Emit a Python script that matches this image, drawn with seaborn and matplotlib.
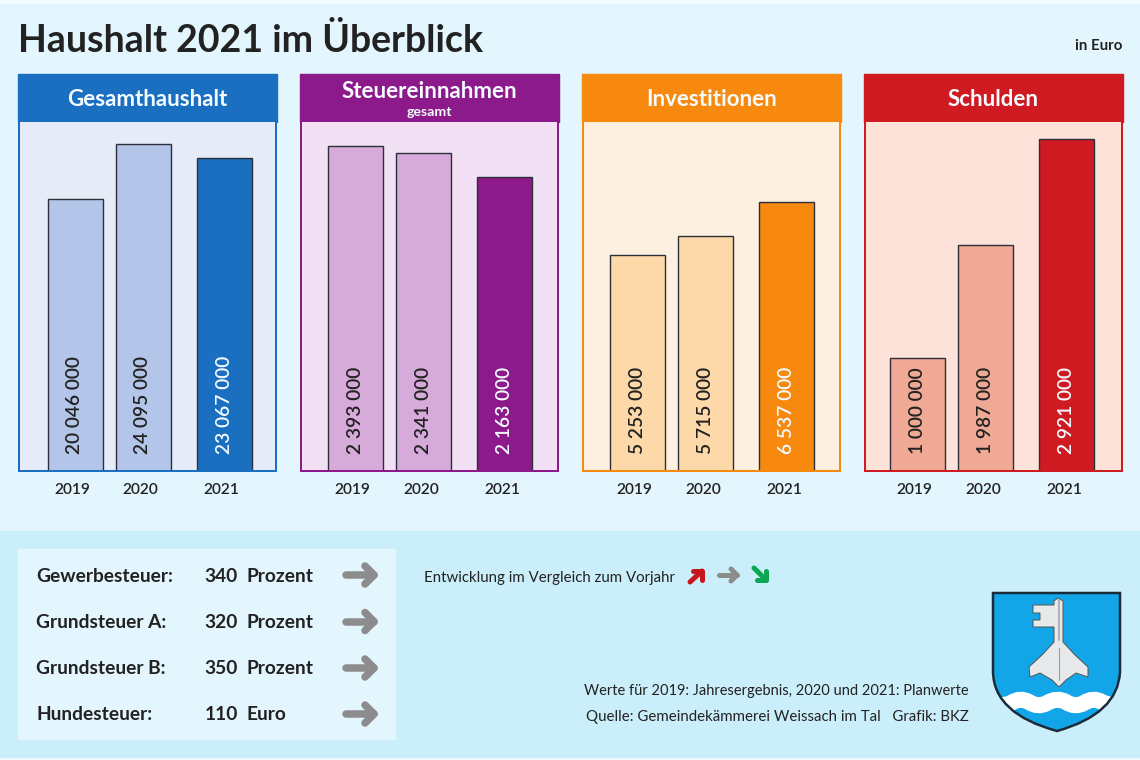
import numpy as np
import pandas as pd
import matplotlib
matplotlib.use("Agg")
import matplotlib.pyplot as plt
from matplotlib.patches import Rectangle, PathPatch
from matplotlib.path import Path
import seaborn as sns

# Werte
jahre = ["2019", "2020", "2021"]
titel = ["Gesamthaushalt", "Steuereinnahmen", "Investitionen", "Schulden"]
gesamthaushalt = [20046000, 24095000, 23067000]
steuereinnahmen = [2393000, 2341000, 2163000]
investitionen = [5253000, 5715000, 6537000]
schulden = [1000000, 1987000, 2921000]
steuer_namen = ["Gewerbesteuer:", "Grundsteuer A:", "Grundsteuer B:", "Hundesteuer:"]
steuer_werte = [340, 320, 350, 110]
steuer_einheit = ["Prozent", "Prozent", "Prozent", "Euro"]

# Layout und Farben (Pixel)
W, H = 1140, 760
panel_links = [18, 300, 582, 864]
bar_links = [48, 328.5, 610.5, 890.5]
y_max = [25720000, 2570000, 8470000, 3075000]
dunkel = ["#1a6fc0", "#8c1a8a", "#f7890f", "#d01a22"]
mittel = ["#b3c6e9", "#d6aad9", "#fdd8a8", "#efa994"]
hell = ["#e6ebf8", "#f2e1f4", "#fef0e0", "#fde2da"]
TEXT = "#222222"
GRAU = "#8c8c8c"


def px(n):
    # Pixel nach Punkt
    return n * 0.72


def pfeil(ax, x0, y0, x1, y1, kopf, breite, farbe=GRAU):
    # Schaft plus Kopf, kopf = zwei Endpunkte der Spitze
    ax.plot([x0, x1], [y0, y1], color=farbe, lw=px(breite), solid_capstyle="round", zorder=3)
    ax.plot([kopf[0][0], x1, kopf[1][0]], [kopf[0][1], y1, kopf[1][1]], color=farbe,
            lw=px(breite), solid_capstyle="round", solid_joinstyle="round", zorder=3)


def plot_panel(fig, i, werte):
    links = panel_links[i]
    ax = fig.add_axes([(links + 1) / W, 1 - 471 / H, 257 / W, 349 / H], zorder=2)
    df = pd.DataFrame({"Jahr": jahre, "Wert": werte})
    sns.barplot(data=df, x="Jahr", y="Wert", hue="Jahr", ax=ax, width=55 / 68,
                palette=[mittel[i], mittel[i], dunkel[i]], legend=False,
                edgecolor="#2b2f3a", linewidth=1, saturation=1)
    # 2021 steht etwas abgesetzt
    versatz = 13 / 68
    ax.patches[2].set_x(ax.patches[2].get_x() + versatz)
    mitte0 = bar_links[i] + 27 - (links + 1)
    ax.set_xlim(-mitte0 / 68, (257 - mitte0) / 68)
    ax.set_ylim(0, y_max[i])
    ax.set_facecolor(hell[i])
    ax.set_yticks([])
    ax.set_xlabel("")
    ax.set_ylabel("")
    ax.set_xticks([-3 / 68, 1 - 2.5 / 68, 2 + versatz - 2.5 / 68])
    ax.set_xticklabels(jahre, fontsize=11.2, color=TEXT, fontweight="semibold")
    ax.tick_params(axis="x", length=0, pad=9)
    ax.grid(False)
    for s in ["left", "right", "bottom"]:
        ax.spines[s].set_color(dunkel[i])
        ax.spines[s].set_linewidth(px(2))
    ax.spines["top"].set_visible(False)
    for j, p in enumerate(ax.patches):
        text = f"{werte[j]:,}".replace(",", " ")
        ax.annotate(text, (p.get_x() + p.get_width() / 2, 0), xytext=(0, px(17)),
                    textcoords="offset points", rotation=90, ha="center", va="bottom",
                    fontsize=13.8, fontweight="semibold", color=TEXT if j < 2 else "#f2fbff")


def wappen(ax):
    umriss = Path([(993, 593), (1120, 593), (1120, 672), (1118, 714), (1057, 731),
                   (994, 714), (993, 672), (993, 593)],
                  [Path.MOVETO, Path.LINETO, Path.LINETO, Path.CURVE3, Path.CURVE3,
                   Path.CURVE3, Path.CURVE3, Path.CLOSEPOLY])
    ax.add_patch(PathPatch(umriss, facecolor="#12a6e8", edgecolor="none", zorder=3))
    welle = Path([(980, 701.5), (1002, 708), (1011, 703), (1020, 697), (1029, 702),
                  (1038, 708), (1047, 703), (1057, 697), (1066, 702), (1075, 708),
                  (1084, 703), (1093, 697), (1102, 702), (1112, 708), (1130, 702)],
                 [Path.MOVETO] + [Path.CURVE3] * 14)
    w = PathPatch(welle, facecolor="none", edgecolor="white", lw=px(16), zorder=4)
    ax.add_patch(w)
    w.set_clip_path(PathPatch(umriss, transform=ax.transData))
    ax.add_patch(PathPatch(umriss, facecolor="none", edgecolor="#1c2b3a", lw=px(2.5), zorder=6))
    # Schluessel
    schluessel = [(1054, 601), (1058, 598), (1063, 601), (1063, 642), (1075, 655), (1088, 667),
                  (1088, 677), (1076, 673), (1066, 680), (1059, 687), (1052, 680), (1040, 673),
                  (1030, 677), (1029, 667), (1042, 655), (1054, 642), (1054, 627), (1033, 627),
                  (1033, 620), (1040, 620), (1040, 613), (1033, 613), (1033, 605), (1054, 605)]
    ax.fill(*zip(*schluessel), facecolor="#e8e9ea", edgecolor="#555555", lw=0.7, zorder=5)
    ax.plot([1058.5, 1058.5], [600, 640], color="#b0b2b5", lw=1.5, zorder=5)
    ax.plot([1058.5, 1058.5], [648, 680], color="#9a9c9f", lw=0.8, zorder=5)


def main():
    sns.set_theme(style="white")
    plt.rcParams["font.family"] = ["Lato", "DejaVu Sans"]
    fig = plt.figure(figsize=(W / 100, H / 100), dpi=100, facecolor="#f4fbfe")

    bg = fig.add_axes([0, 0, 1, 1], zorder=0)
    bg.set_xlim(0, W)
    bg.set_ylim(H, 0)
    bg.axis("off")
    bg.add_patch(Rectangle((0, 4), W, 527, color="#e3f5fd"))
    bg.add_patch(Rectangle((0, 531), W, 226, color="#cbeefb"))
    bg.add_patch(Rectangle((18, 549), 377, 190, color="#e3f5fd"))

    bg.text(18, 40, "Haushalt 2021 im Überblick", fontsize=27, fontweight="bold",
            color=TEXT, va="center")
    bg.text(1122, 46, "in Euro", fontsize=10.8, fontweight="bold", color=TEXT, ha="right", va="center")

    for i, werte in enumerate([gesamthaushalt, steuereinnahmen, investitionen, schulden]):
        links = panel_links[i]
        bg.add_patch(Rectangle((links, 74), 259, 48, color=dunkel[i]))
        y = 92 if i == 1 else 100
        bg.text(links + 129.5, y, titel[i], fontsize=16, fontweight="bold", color="#f4fbfe",
                ha="center", va="center")
        plot_panel(fig, i, werte)
    bg.text(429.5, 112, "gesamt", fontsize=10.2, fontweight="bold", color="#f4fbfe",
            ha="center", va="center")

    for n, y in enumerate([575, 621.5, 668, 714]):
        yt = y + 1
        bg.text(36, yt, steuer_namen[n], fontsize=13.8, fontweight="bold", color=TEXT, va="center")
        bg.text(238, yt, str(steuer_werte[n]), fontsize=13.8, fontweight="bold", color=TEXT,
                ha="right", va="center")
        bg.text(247, yt, steuer_einheit[n], fontsize=13.8, fontweight="bold", color=TEXT, va="center")
        pfeil(bg, 346, y, 374, y, [(365, y - 9), (365, y + 9)], 7.5)

    bg.text(424, 578, "Entwicklung im Vergleich zum Vorjahr", fontsize=10.8, color=TEXT, va="center")
    # kleine Pfeile
    pfeil(bg, 690, 582, 702, 571, [(693, 571), (702, 580)], 5, "#c8161d")
    pfeil(bg, 719, 575, 737, 575, [(731, 569), (731, 581)], 5)
    pfeil(bg, 754, 568, 766, 580, [(757, 580), (766, 571)], 5, "#0aa650")

    bg.text(969, 691, "Werte für 2019: Jahresergebnis, 2020 und 2021: Planwerte", fontsize=10.55,
            color=TEXT, ha="right", va="center")
    bg.text(969, 717, "Quelle: Gemeindekämmerei Weissach im Tal   Grafik: BKZ", fontsize=10.8,
            color=TEXT, ha="right", va="center")
    wappen(bg)

    fig.savefig("out.png", dpi=100, facecolor=fig.get_facecolor())


if __name__ == "__main__":
    main()
